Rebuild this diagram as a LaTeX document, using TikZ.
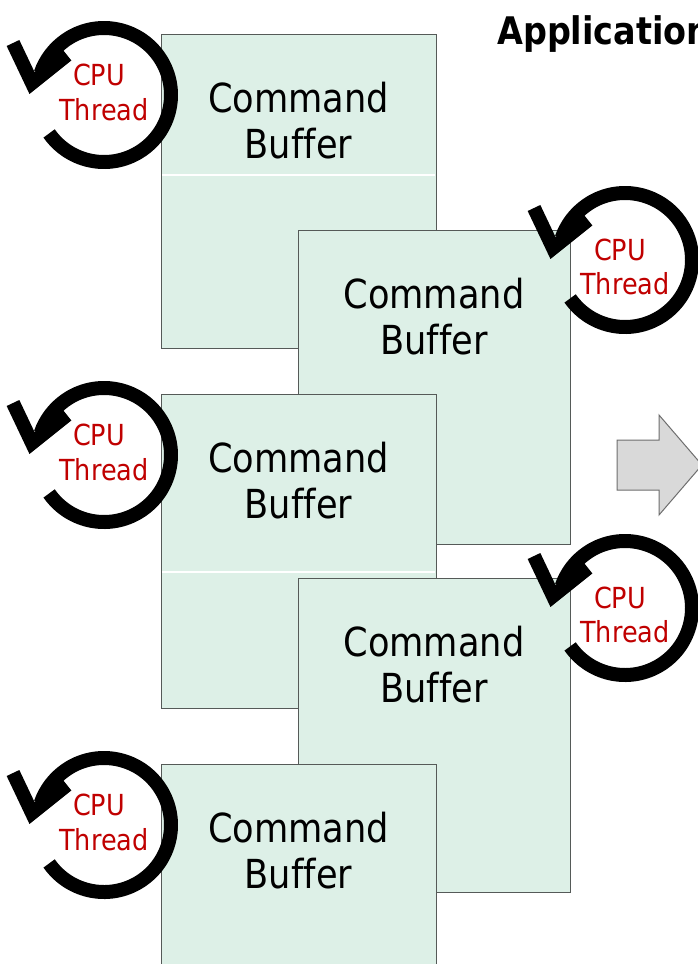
\documentclass[tikz,border=0pt]{standalone}
\usepackage{fontspec}
\setmainfont{DejaVu Sans}[FakeStretch=0.88,Ligatures=NoCommon]
\definecolor{boxfill}{RGB}{221,240,231}
\definecolor{boxline}{RGB}{85,90,88}
\definecolor{cpured}{RGB}{192,0,0}
\definecolor{arrowfill}{RGB}{217,217,217}
\definecolor{arrowline}{RGB}{110,110,110}
\tikzset{
  cbuf/.style={draw=boxline, fill=boxfill, line width=1.2pt, minimum width=275pt, minimum height=314pt, anchor=north west, inner sep=0pt},
  cmdtext/.style={font=\fontsize{40}{46}\selectfont, anchor=base, inner sep=0pt},
  cputext/.style={font=\fontsize{29}{35}\selectfont, text=cpured, anchor=base, inner sep=0pt},
  titletext/.style={font=\bfseries\fontsize{38}{44}\selectfont, anchor=base west, inner sep=0pt},
  sepline/.style={draw=white, line width=1.5pt},
  grayarrow/.style={draw=arrowline, fill=arrowfill, line width=1pt},
  cpuloop/.pic={
    \draw[line width=14pt] (215:67) arc[start angle=215, end angle=521, radius=67];
    \draw[line width=14pt, line join=miter, miter limit=6] (-91,52) -- (-72,12) -- (-37,40);
  }
}
\begin{document}
\begin{tikzpicture}[x=1pt,y=1pt]
\useasboundingbox (0,0) rectangle (698,-964);
\clip (0,0) rectangle (698,-964);
\fill[white] (0,0) rectangle (698,-964);

% title
\node[titletext] (title) at (497,-44) {Application};

% command buffers
\node[cbuf] (bA) at (161,-34) {};
\draw[sepline] (161.8,-175) -- (435.2,-175);
\node[cmdtext] (cA) at (298.5,-112.5) {Command};
\node[cmdtext] (fA) at (298.5,-158.5) {Buffer};

\node[cbuf, minimum width=272pt] (bB) at (298,-230) {};
\node[cmdtext] (cB) at (434,-308.5) {Command};
\node[cmdtext] (fB) at (434,-354.5) {Buffer};

\node[cbuf] (bC) at (161,-394) {};
\draw[sepline] (161.8,-572) -- (435.2,-572);
\node[cmdtext] (cC) at (298.5,-472.5) {Command};
\node[cmdtext] (fC) at (298.5,-518.5) {Buffer};

\node[cbuf, minimum width=272pt] (bD) at (298,-578) {};
\node[cmdtext] (cD) at (434,-656.5) {Command};
\node[cmdtext] (fD) at (434,-702.5) {Buffer};

\node[cbuf] (bE) at (161,-764) {};
\node[cmdtext] (cE) at (298.5,-842.5) {Command};
\node[cmdtext] (fE) at (298.5,-888.5) {Buffer};

% gray arrow
\draw[grayarrow] (617,-440) -- (659,-440) -- (659,-415) -- (702,-465) -- (659,-515) -- (659,-490) -- (617,-490) -- cycle;

% CPU threads
\pic at (104,-95) {cpuloop};
\node[cputext] (pA) at (99,-85) {CPU};
\node[cputext] (tA) at (104,-120) {Thread};

\pic at (104,-455) {cpuloop};
\node[cputext] (pC) at (99,-445) {CPU};
\node[cputext] (tC) at (104,-480) {Thread};

\pic at (104,-825) {cpuloop};
\node[cputext] (pE) at (99,-815) {CPU};
\node[cputext] (tE) at (104,-850) {Thread};

\pic at (625,-260) {cpuloop};
\node[cputext] (pB) at (620,-260) {CPU};
\node[cputext] (tB) at (625,-294) {Thread};

\pic at (625,-608) {cpuloop};
\node[cputext] (pD) at (620,-608) {CPU};
\node[cputext] (tD) at (625,-642) {Thread};
\end{tikzpicture}
\end{document}
